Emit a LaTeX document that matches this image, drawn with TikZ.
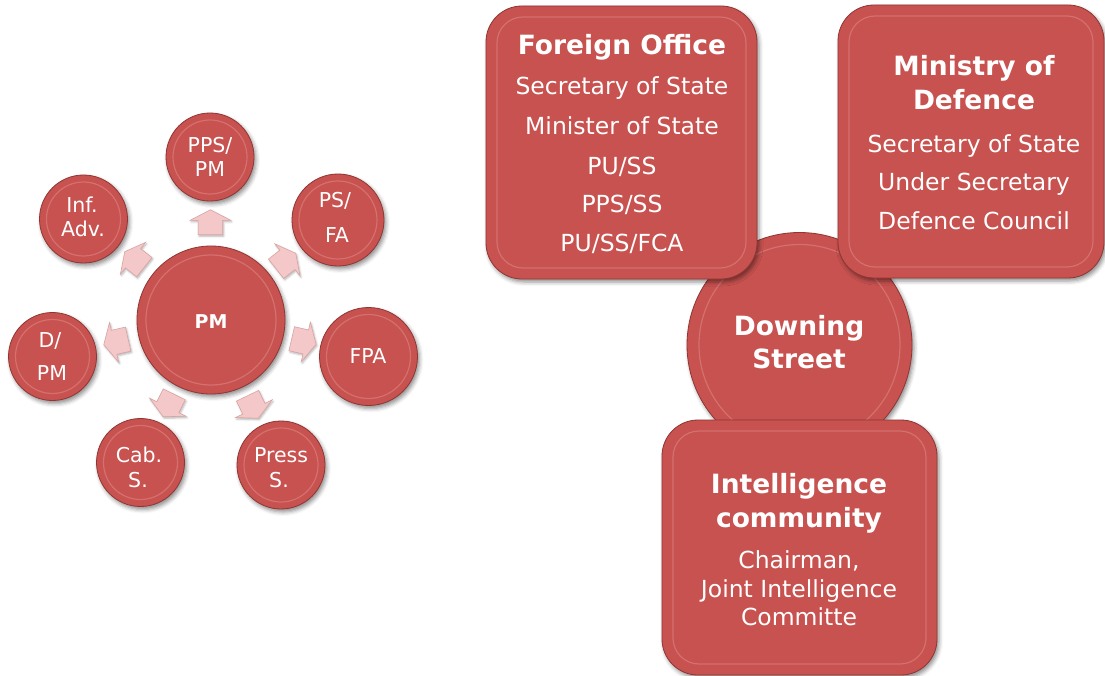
\documentclass[tikz,border=0pt]{standalone}
\usepackage{fontspec}
\setmainfont{DejaVu Sans}
\usetikzlibrary{shadows.blur, shapes.arrows, calc}
\definecolor{redfill}{HTML}{C7524F}
\definecolor{redrim}{HTML}{8F3634}
\definecolor{redhi}{HTML}{E08A88}
\definecolor{pinkfill}{HTML}{F4C8C8}
\definecolor{pinkdraw}{HTML}{D9A3A3}
\newcommand{\ftitle}{\bfseries\fontsize{26.5}{30}\selectfont}
\newcommand{\fbody}{\fontsize{23.5}{28}\selectfont}
\newcommand{\fsat}{\fontsize{20.5}{22}\selectfont}
\newcommand{\fpm}{\bfseries\fontsize{19}{22}\selectfont}
\tikzset{
  ball/.style={circle, fill=redfill, draw=redrim, line width=0.8pt, inner sep=0pt,
    blur shadow={shadow xshift=2pt, shadow yshift=-3pt, shadow blur radius=4pt, shadow opacity=45},
    path picture={\draw[redhi, line width=1.2pt, opacity=0.55]
      let \p1=($(path picture bounding box.east)-(path picture bounding box.center)$) in
      (path picture bounding box.center) circle[radius=\x1-#1];}},
  ball/.default=7pt,
  rbox/.style={rectangle, rounded corners=36pt, fill=redfill, draw=redrim, line width=0.8pt, inner sep=0pt,
    blur shadow={shadow xshift=2pt, shadow yshift=-3pt, shadow blur radius=4pt, shadow opacity=45},
    path picture={\draw[redhi, line width=1.2pt, opacity=0.55, rounded corners=26pt]
      ($(path picture bounding box.south west)+(11pt,11pt)$) rectangle
      ($(path picture bounding box.north east)+(-11pt,-11pt)$);}},
  harrow/.style={single arrow, fill=pinkfill, draw=pinkdraw, line width=0.6pt,
    inner xsep=0pt, inner ysep=12pt, minimum height=25pt,
    single arrow head extend=8pt, single arrow tip angle=125, single arrow head indent=0pt,
    blur shadow={shadow xshift=1pt, shadow yshift=-1.5pt, shadow blur radius=2pt, shadow opacity=30}},
  txt/.style={text=white, inner sep=0pt, anchor=base}
}
\begin{document}
\begin{tikzpicture}[x=1pt,y=1pt]
\useasboundingbox (0,0) rectangle (1105,-676);
% ---- left radial diagram ----
\node[ball=9pt, minimum size=148pt] (pm) at (211,-320) {};
\node[ball, minimum size=88pt] (pps) at (210,-157) {};
\node[ball, minimum size=92pt] (psfa) at (338,-220) {};
\node[ball, minimum size=98pt] (fpa) at (368.5,-356.5) {};
\node[ball, minimum size=88pt] (press) at (281,-465) {};
\node[ball, minimum size=88pt] (cab) at (140.5,-462.5) {};
\node[ball, minimum size=88pt] (dpm) at (52.5,-356.5) {};
\node[ball, minimum size=88pt] (inf) at (83.5,-219) {};
\node[harrow, rotate=90] (a1) at ($(pm)!0.58!(pps)$) {};
\node[harrow, rotate=38.2] (a2) at ($(pm)!0.57!(psfa)$) {};
\node[harrow, rotate=-13] (a3) at ($(pm)!0.57!(fpa)$) {};
\node[harrow, rotate=-64.2] (a4) at ($(pm)!0.58!(press)$) {};
\node[harrow, rotate=-116.3] (a5) at ($(pm)!0.58!(cab)$) {};
\node[harrow, rotate=193] (a6) at ($(pm)!0.58!(dpm)$) {};
\node[harrow, rotate=141.6] (a7) at ($(pm)!0.58!(inf)$) {};
\node[txt, font=\fpm] (tpm) at (211,-328) {PM};
\node[txt, font=\fsat] (tpps1) at (210,-153) {PPS/};
\node[txt, font=\fsat] (tpps2) at (210,-177) {PM};
\node[txt, font=\fsat] (tps1) at (335,-208) {PS/};
\node[txt, font=\fsat] (tps2) at (337,-243) {FA};
\node[txt, font=\fsat] (tfpa) at (368,-363) {FPA};
\node[txt, font=\fsat] (tpr1) at (281,-462) {Press};
\node[txt, font=\fsat] (tpr2) at (279,-487) {S.};
\node[txt, font=\fsat] (tcab1) at (139,-462) {Cab.};
\node[txt, font=\fsat] (tcab2) at (138,-487) {S.};
\node[txt, font=\fsat] (td1) at (50,-347) {D/};
\node[txt, font=\fsat] (td2) at (52,-380) {PM};
\node[txt, font=\fsat] (tinf1) at (82,-213) {Inf.};
\node[txt, font=\fsat] (tinf2) at (83,-237) {Adv.};
% ---- right diagram ----
\node[ball=12pt, minimum size=225pt] (ds) at (799.5,-345) {};
\node[rbox, minimum width=271pt, minimum height=273pt] (fo) at (621.5,-142.5) {};
\node[rbox, minimum width=266pt, minimum height=273pt] (mod) at (971,-141.5) {};
\node[rbox, minimum width=275pt, minimum height=255pt] (ic) at (799.5,-547.5) {};
\node[txt, font=\ftitle] (ds1) at (799,-335) {Downing};
\node[txt, font=\ftitle] (ds2) at (799,-368) {Street};
\node[txt, font=\ftitle] (fo1) at (622,-55) {Foreign Office};
\node[txt, font=\fbody] (fo2) at (622,-95) {Secretary of State};
\node[txt, font=\fbody] (fo3) at (622,-135) {Minister of State};
\node[txt, font=\fbody] (fo4) at (622,-175) {PU/SS};
\node[txt, font=\fbody] (fo5) at (622,-213) {PPS/SS};
\node[txt, font=\fbody] (fo6) at (622,-252) {PU/SS/FCA};
\node[txt, font=\ftitle] (mod1) at (974,-76) {Ministry of};
\node[txt, font=\ftitle] (mod2) at (974,-110) {Defence};
\node[txt, font=\fbody] (mod3) at (974,-153) {Secretary of State};
\node[txt, font=\fbody] (mod4) at (974,-191) {Under Secretary};
\node[txt, font=\fbody] (mod5) at (974,-230) {Defence Council};
\node[txt, font=\ftitle] (ic1) at (799,-493) {Intelligence};
\node[txt, font=\ftitle] (ic2) at (799,-527) {community};
\node[txt, font=\fbody] (ic3) at (799,-568) {Chairman,};
\node[txt, font=\fbody] (ic4) at (799,-597) {Joint Intelligence};
\node[txt, font=\fbody] (ic5) at (799,-625) {Committe};
\end{tikzpicture}
\end{document}
